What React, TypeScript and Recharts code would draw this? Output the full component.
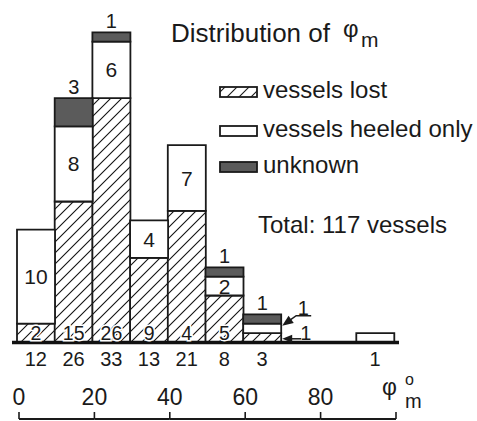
import React from 'react';
import { BarChart, Bar, XAxis, YAxis, LabelList, Legend } from 'recharts';

const BINS = ['0-10', '10-20', '20-30', '30-40', '40-50', '50-60', '60-70', '70-80', '80-90', '90-100'];
const BIN_START = [0, 10, 20, 30, 40, 50, 60, 70, 80, 90];
const LOST = [2, 15, 26, 9, 14, 5, 1, 0, 0, 0];
const HEELED = [10, 8, 6, 4, 7, 2, 1, 0, 0, 1];
const UNKNOWN = [0, 3, 1, 0, 0, 1, 1, 0, 0, 0];
// numbers as printed inside the hatched parts (the 40-50 one reads "4" on the figure)
const LOST_LABELS = ['2', '15', '26', '9', '4', '5', '1', '', '', ''];
const LOST_LABEL_POS = ['in', 'in', 'in', 'in', 'in', 'in', 'arrow', '', '', ''];
const HEELED_LABEL_POS = ['in', 'in', 'in', 'in', 'in', 'in', 'arrow', '', '', 'top'];
const DEG_TICKS = [0, 20, 40, 60, 80, 100];
const LEGEND_ITEMS = ['vessels lost', 'vessels heeled only', 'unknown'];
const TITLE = 'Distribution of';
const TOTAL_TEXT = 'Total: 117 vessels';

const FONT = '"Liberation Sans", Arial, sans-serif';
const INK = '#1a1a1a';
const DARK = '#5b5b5b';
const W = 477;
const H = 421;
const MARGIN = { top: 13.5, right: 78, bottom: 0, left: 12 };
const DEG_PAD = { left: 7, right: 3 };
const DEG_STEP = ((W - MARGIN.left - MARGIN.right - DEG_PAD.left - DEG_PAD.right) * 20) / 100;

const totals = BINS.map((_, i) => LOST[i] + HEELED[i] + UNKNOWN[i]);
const data = BINS.map((bin, i) => ({
  bin,
  deg: BIN_START[i],
  lost: LOST[i],
  heeled: HEELED[i],
  unknown: UNKNOWN[i],
}));

const HALO = { stroke: '#fff', strokeWidth: 3, paintOrder: 'stroke' as const };

function rectOf(p: any) {
  const vb = p.viewBox ?? p;
  return { x: Number(vb.x), y: Number(vb.y), w: Number(vb.width), h: Number(vb.height) };
}

function arrowHead(tx: number, ty: number, fx: number, fy: number, len = 10, half = 4) {
  const dx = tx - fx;
  const dy = ty - fy;
  const d = Math.hypot(dx, dy) || 1;
  const ux = dx / d;
  const uy = dy / d;
  const bx = tx - ux * len;
  const by = ty - uy * len;
  return `${tx},${ty} ${bx - uy * half},${by + ux * half} ${bx + uy * half},${by - ux * half}`;
}

function LostLabel(props: any) {
  const pos = LOST_LABEL_POS[props.index];
  const text = LOST_LABELS[props.index];
  if (!pos || !text) return null;
  const { x, y, w, h } = rectOf(props);
  if (pos === 'in') {
    return (
      <text x={x + w / 2} y={y + h - 3} textAnchor="middle" fontSize={19.5} fill={INK} {...HALO}>
        {text}
      </text>
    );
  }
  const r = x + w;
  const ty = y + h / 2 + 1;
  return (
    <g>
      <line x1={r + 20} y1={ty} x2={r + 8} y2={ty} stroke={INK} strokeWidth={1.5} />
      <polygon points={arrowHead(r + 1, ty, r + 20, ty)} fill={INK} />
      <text x={r + 19} y={y + h - 2.5} fontSize={20} fill={INK}>{text}</text>
    </g>
  );
}

function HeeledLabel(props: any) {
  const pos = HEELED_LABEL_POS[props.index];
  if (!pos || !props.value) return null;
  const { x, y, w, h } = rectOf(props);
  if (pos === 'in') {
    return (
      <text x={x + w / 2} y={y + h / 2 + 7.5} textAnchor="middle" fontSize={21} fill={INK}>
        {props.value}
      </text>
    );
  }
  if (pos === 'top') {
    return (
      <text x={x + w / 2} y={y - 5} textAnchor="middle" fontSize={20} fill={INK}>
        {props.value}
      </text>
    );
  }
  const r = x + w;
  const tipX = r + 1;
  const tipY = y + 2;
  return (
    <g>
      <polyline
        points={`${r + 30},${y - 8} ${r + 15},${y - 8} ${tipX + 6},${tipY - 4.3}`}
        fill="none"
        stroke={INK}
        strokeWidth={1.5}
      />
      <polygon points={arrowHead(tipX, tipY, r + 15, y - 8, 11, 4.5)} fill={INK} />
      <text x={r + 22} y={y - 9} textAnchor="middle" fontSize={20} fill={INK}>{props.value}</text>
    </g>
  );
}

function UnknownLabel(props: any) {
  if (!props.value) return null;
  const { x, y, w } = rectOf(props);
  return (
    <text x={x + w / 2} y={y - 4} textAnchor="middle" fontSize={20} fill={INK}>
      {props.value}
    </text>
  );
}

function DegTick(props: any) {
  const { x, y, payload, index } = props;
  const last = index === DEG_TICKS.length - 1;
  return (
    <g>
      <line x1={x} y1={y} x2={x} y2={y - 7} stroke={INK} strokeWidth={1.6} />
      {!last && <line x1={x} y1={y} x2={x + DEG_STEP} y2={y} stroke={INK} strokeWidth={1.8} />}
      {!last && (
        <text x={x} y={y - 14} textAnchor="middle" fontSize={23} fill={INK}>
          {payload.value}
        </text>
      )}
    </g>
  );
}

function Overlay() {
  const rows = [98, 137, 173];
  const fills = ['url(#hatchLegend)', '#fff', DARK];
  return (
    <svg width={W} height={H} style={{ fontFamily: FONT, display: 'block' }}>
      <defs>
        <pattern id="hatchLegend" patternUnits="userSpaceOnUse" width={12} height={12}>
          <rect width={12} height={12} fill="#fff" />
          <path d="M-1,1 l2,-2 M0,12 l12,-12 M11,13 l2,-2" stroke={INK} strokeWidth={1.1} />
        </pattern>
      </defs>
      <text x={171} y={42} fontSize={26} fill={INK}>{TITLE}</text>
      <text x={343} y={37} fontSize={24} fill={INK}>φ</text>
      <text x={361} y={47} fontSize={21} fill={INK}>m</text>
      {LEGEND_ITEMS.map((label, i) => (
        <g key={label}>
          <rect x={220} y={rows[i] - 11} width={37} height={10} fill={fills[i]} stroke={INK} strokeWidth={1.8} />
          <text x={263} y={rows[i]} fontSize={24} fill={INK}>{label}</text>
        </g>
      ))}
      <text x={258} y={233} fontSize={24} fill={INK}>{TOTAL_TEXT}</text>
      <text x={382} y={395} fontSize={23} fill={INK}>φ</text>
      <text x={405} y={385} fontSize={16} fill={INK}>o</text>
      <text x={405} y={408} fontSize={20} fill={INK}>m</text>
    </svg>
  );
}

export default function App() {
  return (
    <div style={{ position: 'absolute', left: 0, top: 0, width: W, height: H, background: '#fff', fontFamily: FONT }}>
      <BarChart width={W} height={H} data={data} margin={MARGIN} barCategoryGap={0}>
        <defs>
          <pattern id="hatch" patternUnits="userSpaceOnUse" width={11} height={11}>
            <rect width={11} height={11} fill="#fff" />
            <path d="M-1,1 l2,-2 M0,11 l11,-11 M10,12 l2,-2" stroke="#111" strokeWidth={1.1} />
          </pattern>
        </defs>
        <XAxis
          xAxisId="bins"
          dataKey="bin"
          height={76.5}
          padding={{ left: 5, right: 5 }}
          interval={0}
          tickLine={false}
          tickSize={0}
          tickMargin={9}
          axisLine={{ stroke: '#111', strokeWidth: 3.5 }}
          tick={{ fontSize: 20, fill: INK }}
          tickFormatter={(_v: any, i: number) => (totals[i] ? String(totals[i]) : '')}
        />
        <XAxis
          xAxisId="deg"
          dataKey="deg"
          type="number"
          domain={[0, 100]}
          ticks={DEG_TICKS}
          allowDataOverflow
          height={2}
          padding={DEG_PAD}
          interval={0}
          axisLine={false}
          tickLine={false}
          tickSize={0}
          tickMargin={0}
          tick={<DegTick />}
        />
        <YAxis hide domain={[0, 35]} />
        <Legend
          layout="vertical"
          align="center"
          verticalAlign="middle"
          wrapperStyle={{ left: 0, top: 0, width: W, height: H, pointerEvents: 'none' }}
          content={() => <Overlay />}
        />
        <Bar xAxisId="bins" dataKey="lost" stackId="s" fill="url(#hatch)" stroke={INK} strokeWidth={1.8} isAnimationActive={false}>
          <LabelList dataKey="lost" content={LostLabel} />
        </Bar>
        <Bar xAxisId="bins" dataKey="heeled" stackId="s" fill="#fff" stroke={INK} strokeWidth={1.8} isAnimationActive={false}>
          <LabelList dataKey="heeled" content={HeeledLabel} />
        </Bar>
        <Bar xAxisId="bins" dataKey="unknown" stackId="s" fill={DARK} stroke={INK} strokeWidth={1.8} isAnimationActive={false}>
          <LabelList dataKey="unknown" content={UnknownLabel} />
        </Bar>
      </BarChart>
    </div>
  );
}
